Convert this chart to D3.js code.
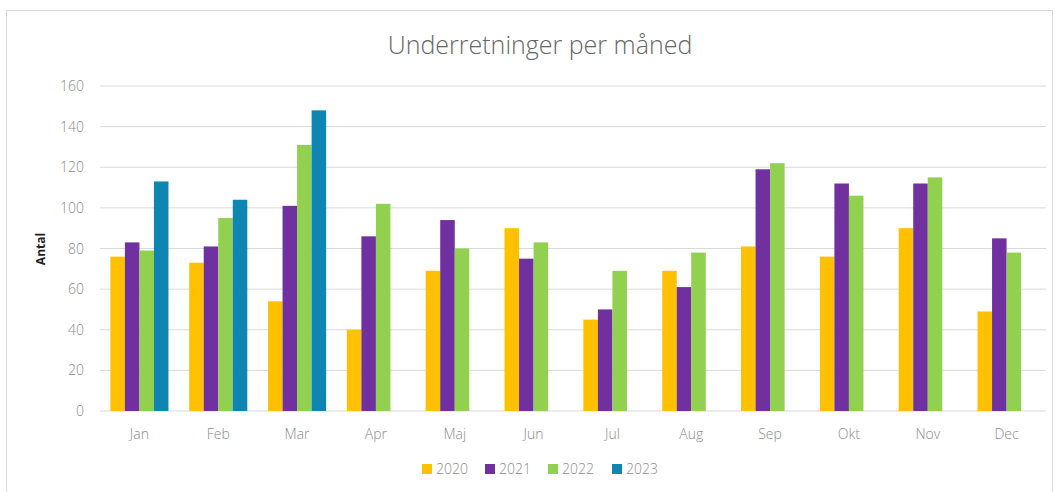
<!DOCTYPE html>
<head>
	<meta charset="utf-8">
	<script type="text/javascript" src="https://cdn.jsdelivr.net/npm/d3@7"></script>
	<style>
		body { margin: 0; background: #fff; }
		text { font-family: "Open Sans", sans-serif; }
	</style>
</head>
<body>
	<script type="text/javascript">

	var months = ["Jan", "Feb", "Mar", "Apr", "Maj", "Jun", "Jul", "Aug", "Sep", "Okt", "Nov", "Dec"];
	var years = ["2020", "2021", "2022", "2023"];
	var colors = ["#ffc000", "#7030a0", "#92d050", "#0f86b2"];

	var v2020 = [76, 73, 54, 40, 69, 90, 45, 69, 81, 76, 90, 49];
	var v2021 = [83, 81, 101, 86, 94, 75, 50, 61, 119, 112, 112, 85];
	var v2022 = [79, 95, 131, 102, 80, 83, 69, 78, 122, 106, 115, 78];
	var v2023 = [113, 104, 148, null, null, null, null, null, null, null, null, null];
	var yTicks = [0, 20, 40, 60, 80, 100, 120, 140, 160];

	var series = [v2020, v2021, v2022, v2023];

	var w = 1055;
	var h = 492;

	var svg = d3.select("body")
	.append("svg")
	.attr("width", w)
	.attr("height", h);

	// outer chart frame
	svg.append("rect")
	.attr("x", 6.5)
	.attr("y", 10.5)
	.attr("width", 1046)
	.attr("height", 500)
	.attr("fill", "#fff")
	.attr("stroke", "#d9d9d9");

	var x0 = d3.scaleBand()
	.domain(months)
	.range([100, 1046])
	.paddingInner(0.263)
	.paddingOuter(0.1315);

	var x1 = d3.scaleBand()
	.domain(years)
	.range([0, x0.bandwidth()]);

	var y = d3.scaleLinear()
	.domain([0, 160])
	.range([411, 86]);

	// gridlines
	svg.selectAll("line.grid")
	.data(yTicks)
	.enter()
	.append("line")
	.attr("class", "grid")
	.attr("x1", 100)
	.attr("x2", 1046)
	.attr("y1", function(d){ return y(d); })
	.attr("y2", function(d){ return y(d); })
	.attr("stroke", "#d9d9d9")
	.attr("stroke-width", 1);

	// y axis labels
	svg.selectAll("text.ytick")
	.data(yTicks)
	.enter()
	.append("text")
	.attr("class", "ytick")
	.attr("x", 84)
	.attr("y", function(d){ return y(d) + 5; })
	.attr("text-anchor", "end")
	.attr("font-size", "14px")
	.attr("font-weight", 300)
	.attr("fill", "#8c8c8c")
	.text(function(d){ return d; });

	// bars
	var groups = svg.selectAll("g.month")
	.data(months)
	.enter()
	.append("g")
	.attr("class", "month")
	.attr("transform", function(d){ return "translate(" + x0(d) + ",0)"; });

	groups.selectAll("rect")
	.data(function(d, i){
		return years.map(function(yr, j){ return {year: yr, value: series[j][i], color: colors[j]}; })
		.filter(function(e){ return e.value != null; });
	})
	.enter()
	.append("rect")
	.attr("x", function(d){ return x1(d.year); })
	.attr("width", x1.bandwidth())
	.attr("y", function(d){ return y(d.value); })
	.attr("height", function(d){ return y(0) - y(d.value); })
	.attr("fill", function(d){ return d.color; });

	// x labels
	svg.selectAll("text.xlab")
	.data(months)
	.enter()
	.append("text")
	.attr("class", "xlab")
	.attr("x", function(d){ return x0(d) + x0.bandwidth() / 2; })
	.attr("y", 439)
	.attr("text-anchor", "middle")
	.attr("font-size", "14px")
	.attr("font-weight", 300)
	.attr("fill", "#8c8c8c")
	.text(function(d){ return d; });

	// title
	svg.append("text")
	.attr("x", 540)
	.attr("y", 54)
	.attr("text-anchor", "middle")
	.attr("font-size", "25px")
	.attr("font-weight", 300)
	.attr("fill", "#666")
	.text("Underretninger per måned");

	// y axis title
	svg.append("text")
	.attr("transform", "translate(45,249) rotate(-90)")
	.attr("text-anchor", "middle")
	.attr("font-size", "12px")
	.attr("font-weight", "bold")
	.attr("fill", "#222")
	.text("Antal");

	// legend
	var legendX = [422, 485, 548, 612];
	var legend = svg.selectAll("g.legend")
	.data(years)
	.enter()
	.append("g")
	.attr("class", "legend")
	.attr("transform", function(d, i){ return "translate(" + legendX[i] + ",469)"; });

	legend.append("rect")
	.attr("x", 0)
	.attr("y", -5)
	.attr("width", 10)
	.attr("height", 10)
	.attr("fill", function(d, i){ return colors[i]; });

	legend.append("text")
	.attr("x", 14)
	.attr("y", 5)
	.attr("font-size", "14px")
	.attr("font-weight", 300)
	.attr("fill", "#8c8c8c")
	.text(function(d){ return d; });

	</script>
</body>
</html>
